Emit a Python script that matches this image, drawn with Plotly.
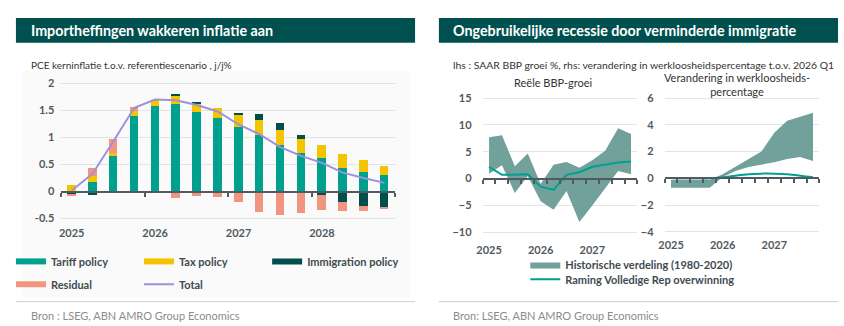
import plotly.graph_objects as go

W, H = 844, 326
FONT = "Lato"

# ---------------- data ----------------
quarters = [f"{y}Q{q}" for y in range(2025, 2029) for q in range(1, 5)]
year_labels = ["2025", "2026", "2027", "2028"]
tariff = [0.0, 0.17, 0.66, 1.40, 1.59, 1.62, 1.48, 1.36, 1.19, 1.05, 0.86, 0.72, 0.62, 0.44, 0.36, 0.31]
tax = [0.12, 0.11, 0.05, 0.085, 0.11, 0.15, 0.15, 0.18, 0.22, 0.28, 0.27, 0.26, 0.24, 0.26, 0.23, 0.17]
immigration = [-0.06, -0.06, -0.02, 0.0, 0.0, 0.025, 0.02, 0.0, 0.05, 0.10, 0.13, 0.07, -0.06, -0.19, -0.27, -0.29]
residual = [-0.03, 0.15, 0.26, 0.075, 0.0, -0.12, -0.08, -0.11, -0.20, -0.38, -0.44, -0.39, -0.28, -0.17, -0.09, -0.02]
total = [0.02, 0.33, 0.93, 1.55, 1.70, 1.69, 1.60, 1.48, 1.24, 1.06, 0.82, 0.66, 0.53, 0.35, 0.25, 0.16]

q_right = [f"{y}Q{q}" for y in range(2025, 2028) for q in range(1, 5)]
year_labels_r = ["2025", "2026", "2027"]
gdp_upper = [7.7, 8.1, 2.3, 4.7, -1.0, 2.6, 3.1, 2.0, 3.4, 5.2, 9.4, 8.3]
gdp_lower = [0.9, 2.5, -2.7, 0.5, -4.2, -5.8, -2.3, -8.1, -5.0, -1.7, 1.4, 0.8]
gdp_forecast = [2.2, 0.7, 0.7, 0.8, -1.5, -2.1, 0.7, 1.2, 2.2, 2.6, 3.0, 3.2]
unemp_upper = [-0.1, -0.1, -0.1, -0.1, 0.3, 0.85, 1.4, 2.0, 3.4, 4.3, 4.6, 4.9]
unemp_lower = [-0.7, -0.7, -0.7, -0.7, 0.1, 0.55, 0.85, 1.0, 1.2, 1.45, 1.6, 1.3]
unemp_forecast = [0.02, 0.0, 0.0, 0.0, 0.08, 0.2, 0.3, 0.35, 0.35, 0.3, 0.2, 0.08]

# ---------------- styles ----------------
C_TEAL = "#00A08E"
C_YELLOW = "#F5C400"
C_DARK = "#004F4C"
C_SALMON = "#F29580"
C_PURPLE = "#9C91DA"
C_BAND = "#72A19C"
C_HEAD = "#00504F"
C_AXIS = "#505A60"
C_GRID = "#E4E4E4"
C_TXT = "#3E4A4F"

def xd(a, b):
    return [a / W, b / W]

def yd(top_px, bot_px):
    return [1 - bot_px / H, 1 - top_px / H]

def ypos(px):
    return 1 - px / H

xl = list(range(16))
xr = list(range(12))

fig = go.Figure()

# left chart bars
for name, vals, col in [("Tariff policy", tariff, C_TEAL), ("Tax policy", tax, C_YELLOW),
                        ("Immigration policy", immigration, C_DARK), ("Residual", residual, C_SALMON)]:
    fig.add_trace(go.Bar(x=xl, y=vals, name=name, marker=dict(color=col, line=dict(width=0)),
                         width=0.41, showlegend=False, xaxis="x", yaxis="y"))
fig.add_trace(go.Scatter(x=xl, y=total, mode="lines", line=dict(color=C_PURPLE, width=2),
                         showlegend=False, xaxis="x4", yaxis="y"))

# legend proxies (left)
for name, col, lg in [("Tariff policy", C_TEAL, "legend"), ("Tax policy", C_YELLOW, "legend"),
                      ("Immigration policy", C_DARK, "legend5"), ("Residual", C_SALMON, "legend2")]:
    fig.add_trace(go.Scatter(x=[None], y=[None], mode="lines", name=name,
                             line=dict(color=col, width=6), legend=lg, xaxis="x", yaxis="y"))
fig.add_trace(go.Scatter(x=[None], y=[None], mode="lines", name="Total",
                         line=dict(color=C_PURPLE, width=2), legend="legend2", xaxis="x", yaxis="y"))

# right: GDP
fig.add_trace(go.Scatter(x=xr, y=gdp_lower, mode="lines", line=dict(width=0, color=C_BAND),
                         showlegend=False, xaxis="x2", yaxis="y2"))
fig.add_trace(go.Scatter(x=xr, y=gdp_upper, mode="lines", line=dict(width=0, color=C_BAND),
                         fill="tonexty", fillcolor=C_BAND, name="Historische verdeling (1980-2020)",
                         legend="legend3", xaxis="x2", yaxis="y2"))
fig.add_trace(go.Scatter(x=xr, y=gdp_forecast, mode="lines", line=dict(color=C_TEAL, width=2),
                         name="Raming Volledige Rep overwinning", legend="legend4", xaxis="x5", yaxis="y2"))
# right: unemployment
fig.add_trace(go.Scatter(x=xr, y=unemp_lower, mode="lines", line=dict(width=0, color=C_BAND),
                         showlegend=False, xaxis="x3", yaxis="y3"))
fig.add_trace(go.Scatter(x=xr, y=unemp_upper, mode="lines", line=dict(width=0, color=C_BAND),
                         fill="tonexty", fillcolor=C_BAND, showlegend=False, xaxis="x3", yaxis="y3"))
fig.add_trace(go.Scatter(x=xr, y=unemp_forecast, mode="lines", line=dict(color=C_TEAL, width=2, shape="spline"),
                         showlegend=False, xaxis="x6", yaxis="y3"))

tickfont = dict(family=FONT, size=11, color=C_AXIS, weight="bold")
legfont = dict(family=FONT, size=11, color=C_TXT, weight="bold")

# axis geometry (pixels)
L_ZERO, L_PPU, L_RANGE = 190.7, 54.4, [-0.62, 2.1]
G_ZERO, G_PPU, G_RANGE = 177.7, 5.4, [-11.8, 17]
U_ZERO, U_PPU, U_RANGE = 177.4, 13.45, [-4.4, 6.8]

def ydom_from(zero, ppu, rng):
    return yd(zero - rng[1] * ppu, zero - rng[0] * ppu)

base_x = dict(showgrid=False, zeroline=False, showline=False, ticks="", tickfont=tickfont, fixedrange=True)
axis_over = dict(showgrid=False, zeroline=False, showline=True, linecolor=C_AXIS, linewidth=2,
                 ticks="outside", ticklen=4, tickwidth=1.5, tickcolor=C_AXIS, showticklabels=False,
                 anchor="free", side="bottom")

leg_common = dict(orientation="h", xanchor="left", yanchor="middle", traceorder="normal",
                  font=legfont, bgcolor="rgba(0,0,0,0)")

fig.update_layout(
    width=W, height=H, margin=dict(l=0, r=0, t=0, b=0),
    paper_bgcolor="white", plot_bgcolor="rgba(0,0,0,0)",
    barmode="relative", bargap=0,
    font=dict(family=FONT, color=C_TXT),
    xaxis=dict(base_x, domain=xd(55.7, 391.7), range=[-0.5, 15.5], anchor="y",
               tickvals=[0, 4, 8, 12], ticktext=year_labels),
    yaxis=dict(domain=ydom_from(L_ZERO, L_PPU, L_RANGE), range=L_RANGE, anchor="x",
               tickvals=[-0.5, 0, 0.5, 1, 1.5, 2], ticktext=["-0.5", "0", "0.5", "1", "1.5", "2"],
               showgrid=True, gridcolor=C_GRID, gridwidth=1, zeroline=False, showline=False,
               tickfont=tickfont, ticklabelstandoff=6),
    xaxis4=dict(axis_over, overlaying="x", range=[-0.5, 15.5], position=ypos(L_ZERO),
                tickvals=[-0.5, 3.5, 7.5, 11.5, 15.5]),
    xaxis2=dict(base_x, domain=xd(480, 636), range=[-0.5, 11.5], anchor="y2",
                tickvals=[0, 4, 8], ticktext=year_labels_r),
    yaxis2=dict(domain=ydom_from(G_ZERO, G_PPU, G_RANGE), range=G_RANGE, anchor="x2",
                tickvals=[-10, -5, 0, 5, 10, 15], showgrid=True, gridcolor=C_GRID, zeroline=False,
                tickfont=tickfont, ticklabelstandoff=10),
    xaxis5=dict(axis_over, overlaying="x2", range=[-0.5, 11.5], position=ypos(G_ZERO),
                tickvals=[i - 0.5 for i in range(13)]),
    xaxis3=dict(base_x, domain=xd(663.3, 819.3), range=[-0.5, 11.5], anchor="y3",
                tickvals=[0, 4, 8], ticktext=year_labels_r),
    yaxis3=dict(domain=ydom_from(U_ZERO, U_PPU, U_RANGE), range=U_RANGE, anchor="x3",
                tickvals=[-4, -2, 0, 2, 4, 6], showgrid=True, gridcolor=C_GRID, zeroline=False,
                tickfont=tickfont, ticklabelstandoff=10),
    xaxis6=dict(axis_over, overlaying="x3", range=[-0.5, 11.5], position=ypos(U_ZERO),
                tickvals=[i - 0.5 for i in range(13)]),
    legend=dict(leg_common, x=5 / W, y=ypos(261), entrywidth=83),
    legend5=dict(leg_common, x=263 / W, y=ypos(261)),
    legend2=dict(leg_common, x=5 / W, y=ypos(284), entrywidth=83),
    legend3=dict(leg_common, x=523 / W, y=ypos(264)),
    legend4=dict(leg_common, x=523 / W, y=ypos(279)),
)

# decorations: header bands, panel background, separators
shapes = [
    dict(type="rect", xref="paper", yref="paper", x0=10 / W, x1=412 / W, y0=ypos(41), y1=ypos(16),
         fillcolor=C_HEAD, line=dict(width=0), layer="below"),
    dict(type="rect", xref="paper", yref="paper", x0=436 / W, x1=838 / W, y0=ypos(41), y1=ypos(16),
         fillcolor=C_HEAD, line=dict(width=0), layer="below"),
    dict(type="rect", xref="paper", yref="paper", x0=16 / W, x1=407 / W, y0=ypos(297), y1=ypos(69),
         fillcolor="#FAFAFA", line=dict(width=0), layer="below"),
    dict(type="line", xref="paper", yref="paper", x0=10 / W, x1=412 / W, y0=ypos(301.5), y1=ypos(301.5),
         line=dict(color="#CFCFCF", width=1)),
    dict(type="line", xref="paper", yref="paper", x0=436 / W, x1=838 / W, y0=ypos(301.5), y1=ypos(301.5),
         line=dict(color="#CFCFCF", width=1)),
]
fig.update_layout(shapes=shapes)

def ann(text, x, y, size, color, weight="normal", xanchor="left"):
    return dict(text=text, x=x / W, y=ypos(y), xref="paper", yref="paper", xanchor=xanchor,
                yanchor="middle", showarrow=False,
                font=dict(family=FONT, size=size, color=color, weight=weight))

fig.update_layout(annotations=[
    ann("Importheffingen wakkeren inflatie aan", 23, 28.5, 14.3, "white", "bold"),
    ann("Ongebruikelijke recessie door verminderde immigratie", 448, 28.5, 14.3, "white", "bold"),
    ann("PCE kerninflatie t.o.v. referentiescenario , j/j%", 23, 63, 10, "#333333"),
    ann("lhs : SAAR BBP groei %, rhs: verandering in werkloosheidspercentage t.o.v. 2026 Q1", 448, 63, 10.4, "#333333"),
    ann("Reële BBP-groei", 551, 81, 11, "#333333", xanchor="center"),
    ann("Verandering in werkloosheids-<br>percentage", 736, 83, 11, "#333333", xanchor="center"),
    ann("Bron : LSEG, ABN AMRO Group Economics", 23, 315, 11, "#8C8C8C"),
    ann("Bron: LSEG, ABN AMRO Group Economics", 448, 315, 11, "#8C8C8C"),
])

fig.write_html("out.html")
